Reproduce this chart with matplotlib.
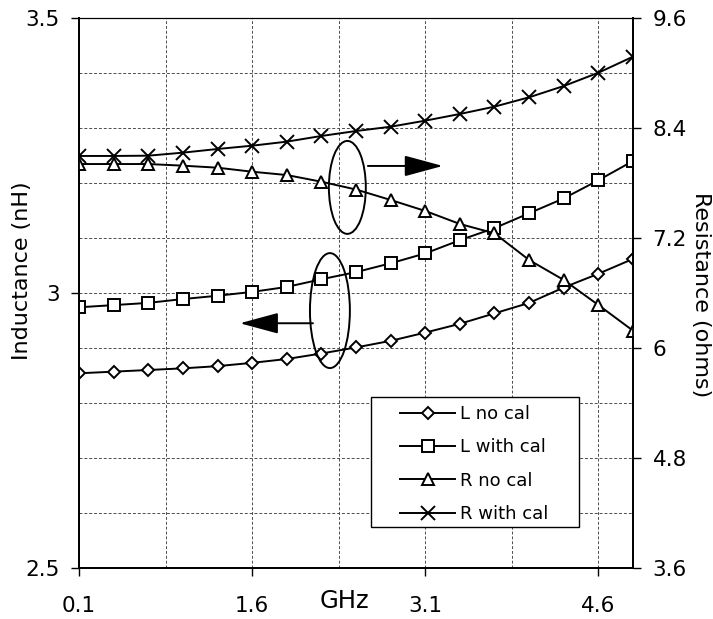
import matplotlib

matplotlib.use('Agg')
from matplotlib import pyplot as plt
from matplotlib.patches import Ellipse, Rectangle
from matplotlib.ticker import MultipleLocator, FormatStrFormatter

plt.rcParams['font.family'] = ['DejaVu Sans']

# frequency points (GHz)
freq = [0.1, 0.4, 0.7, 1.0, 1.3, 1.6, 1.9, 2.2, 2.5, 2.8, 3.1, 3.4, 3.7, 4.0, 4.3, 4.6, 4.9]

# inductance (nH), left axis
l_no_cal = [2.854, 2.857, 2.860, 2.863, 2.867, 2.873, 2.880, 2.890, 2.901,
            2.913, 2.928, 2.944, 2.963, 2.982, 3.010, 3.035, 3.062]
l_with_cal = [2.974, 2.978, 2.982, 2.989, 2.995, 3.002, 3.011, 3.025, 3.038,
              3.054, 3.072, 3.096, 3.118, 3.145, 3.172, 3.205, 3.240]

# resistance (ohms), right axis
r_no_cal = [8.007, 8.007, 8.007, 7.989, 7.967, 7.923, 7.887, 7.814, 7.729,
            7.615, 7.495, 7.353, 7.251, 6.960, 6.742, 6.469, 6.189]
r_with_cal = [8.095, 8.095, 8.098, 8.131, 8.171, 8.207, 8.251, 8.313, 8.367,
              8.414, 8.480, 8.553, 8.633, 8.735, 8.858, 9.003, 9.178]

x_ticks = [0.1, 1.6, 3.1, 4.6]
x_minor = [0.85, 2.35, 3.85]
l_ticks = [2.5, 3.0, 3.5]
r_ticks = [3.6, 4.8, 6.0, 7.2, 8.4, 9.6]

FS = 15.5
LW = 1.4

fig = plt.figure(figsize=(7.13, 6.19), dpi=100)
ax = fig.add_axes([79 / 713, 1 - 568 / 619, 554 / 713, 550 / 619])
ax2 = ax.twinx()

style = dict(color='black', lw=LW, mec='black', mfc='white', mew=LW)
h1, = ax.plot(freq, l_no_cal, marker='D', ms=6.4, label='L no cal', **style)
h2, = ax.plot(freq, l_with_cal, marker='s', ms=8.3, label='L with cal', **style)
h3, = ax2.plot(freq, r_no_cal, marker='^', ms=9.3, label='R no cal', **style)
h4, = ax2.plot(freq, r_with_cal, marker='x', ms=9.8, label='R with cal', **style)

ax.set_xlim(0.1, 4.9)
ax.set_ylim(2.5, 3.5)
ax2.set_ylim(3.6, 9.6)

ax.set_xticks(x_ticks)
ax.set_xticks(x_minor, minor=True)
ax.set_yticks(l_ticks)
ax.yaxis.set_minor_locator(MultipleLocator(0.1))
ax2.set_yticks(r_ticks)
for a in (ax.xaxis, ax.yaxis, ax2.yaxis):
    a.set_major_formatter(FormatStrFormatter('%g'))

ax.tick_params(which='major', direction='out', length=6, width=1, labelsize=FS)
ax.tick_params(which='minor', length=0)
ax.tick_params(axis='y', pad=8)
ax.tick_params(axis='x', pad=14)
ax2.tick_params(direction='out', length=6, width=1, labelsize=FS, pad=8)

ax.grid(which='both', color='0.3', ls=(0, (3, 2)), lw=0.7)
ax.set_axisbelow(True)

for a in (ax, ax2):
    for s in ('left', 'bottom', 'right'):
        a.spines[s].set_linewidth(1.3)
    a.spines['top'].set_linewidth(0.8)

fig.text(22 / 713, 1 - 271 / 619, 'Inductance (nH)', rotation=90,
         ha='center', va='center', fontsize=16)
fig.text(701 / 713, 1 - 295 / 619, 'Resistance (ohms)', rotation=270,
         ha='center', va='center', fontsize=16)
fig.text(344 / 713, 1 - 601 / 619, 'GHz', ha='center', va='center', fontsize=17.5)

# ellipses + arrows pointing at the matching axis
ax.add_patch(Ellipse((2.425, 3.192), 0.320, 0.169, fill=False, ec='black', lw=LW, zorder=5))
ax.add_patch(Ellipse((2.274, 2.968), 0.346, 0.209, fill=False, ec='black', lw=LW, zorder=5))
arrow = dict(arrowstyle='-|>,head_length=2.4,head_width=0.65', mutation_scale=10,
             lw=LW, color='black', shrinkA=0, shrinkB=0)
ax.annotate('', xy=(3.252, 3.231), xytext=(2.603, 3.231), arrowprops=arrow, zorder=5)
ax.annotate('', xy=(1.494, 2.945), xytext=(2.127, 2.945), arrowprops=arrow, zorder=5)

# legend box
fig.patches.append(Rectangle((371 / 713, 1 - 527 / 619), 208 / 713, 130 / 619,
                             transform=fig.transFigure, fc='white', ec='black',
                             lw=1, zorder=3))
fig.legend([h1, h2, h3, h4], ['L no cal', 'L with cal', 'R no cal', 'R with cal'],
           loc='upper left', bbox_to_anchor=(400 / 713, 1 - 405 / 619),
           frameon=False, borderpad=0, borderaxespad=0, fontsize=13,
           handlelength=3.05, handletextpad=0.25, labelspacing=0.85)

fig.savefig('out.png', dpi=100)
plt.close(fig)
